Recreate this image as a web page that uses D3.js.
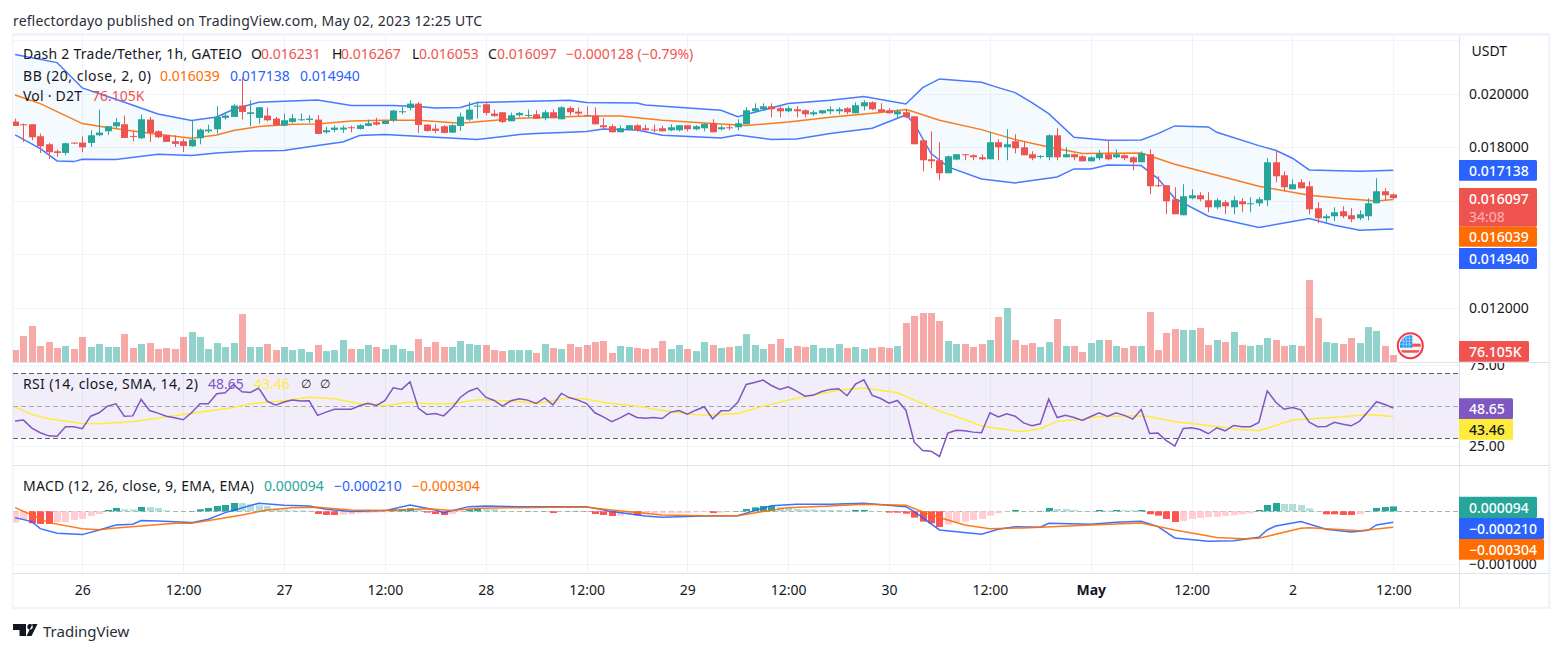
<!DOCTYPE html>
<html><head><meta charset="utf-8">
<script src="https://cdnjs.cloudflare.com/ajax/libs/d3/7.8.5/d3.min.js"></script>
<style>
html,body{margin:0;padding:0;background:#fff}
svg{display:block}
text{font-family:"Noto Sans",sans-serif;font-size:14px;fill:#131722}
</style></head><body><svg id="c" width="1562" height="652"></svg>
<script>
// Hours relative to 26 Apr 2023 00:00 UTC; one candle per hour. Prices in millionths of USDT.
const firstHour=-8;
const opens=[18954,18854,18854,18405,18106,17845,17782,18169,18169,18156,18443,18592,18779,18854,18418,18331,19028,18592,18443,18218,18218,18031,18331,18592,18667,19091,19128,19552,19240,19091,19178,19066,18804,18941,19016,19016,19028,18555,18642,18655,18742,18679,18791,18929,18866,19003,19302,19464,19626,18841,18692,18779,18542,18791,19028,19514,19602,19253,
19302,18966,19190,19165,19227,19078,19302,19040,19464,19327,19190,19177,18816,18779,18554,18654,18816,18704,18654,18704,18629,18629,18816,18667,18704,18891,18667,18741,18741,18853,19339,19414,19526,19452,19339,19414,19377,19227,19265,19339,19339,19452,19265,19526,19676,19414,19377,19227,19302,19153,18255,17545,17508,17022,17533,17732,17695,17620,17545,18181,17994,18218,
17994,17732,17632,17620,18442,17620,17732,17657,17470,17583,17732,17620,17695,17620,17433,17732,16573,16573,16050,15452,16087,16199,16013,15751,15938,15751,15975,15863,15900,16013,17433,16947,16424,16686,16536,15714,15340,15415,15601,15452,15340,15415,15900,16349,16231];
const highs=[19066,18879,18854,18505,18156,17907,18169,18169,18405,18630,19402,18779,19091,19178,18592,19215,19128,18630,18468,18443,18318,19003,18692,18841,19527,19315,19602,20623,19751,19502,19477,19128,19253,19228,19253,19190,19203,18754,18817,18804,18804,18854,19028,19091,19003,19390,19502,19751,19689,18854,18854,18817,18854,19290,19689,19701,19664,19402,
19302,19290,19314,19402,19377,19377,19414,19526,19526,19477,19526,19489,19078,18853,18816,18816,18853,18841,18841,18804,18853,18816,18816,18816,18891,19040,18816,18841,19040,19489,19638,19638,19638,19526,19526,19526,19414,19377,19377,19526,19489,19489,19676,19751,19713,19638,19452,19414,19414,19153,18293,18592,18181,17682,17732,17732,17732,17732,18554,18293,18667,18480,
18218,17844,17695,18480,18704,17994,17757,17695,17657,17889,18255,17919,17732,17657,17844,17919,16910,16573,16499,16611,16424,16312,16312,16087,16013,16162,16087,16125,16125,17583,17882,17097,16798,16798,16723,15938,15489,15751,15788,15714,15639,16087,16835,16461,16267];
const lows=[18791,18194,18256,17782,17558,17633,17695,18119,17807,18007,18405,18455,18692,18343,18218,18306,18194,18343,18194,18007,17820,18007,18106,18530,18505,19028,19128,19028,18779,18879,18966,18817,18779,18904,18978,18904,18480,18505,18555,18530,18555,18655,18779,18804,18854,18941,19228,19377,18530,18580,18518,18518,18530,18605,18978,19066,19190,19128,
18903,18966,19128,19103,19065,19003,19078,19040,19190,19165,19165,18853,18679,18554,18554,18629,18579,18617,18554,18579,18592,18592,18592,18629,18592,18554,18629,18629,18629,18853,19302,19377,19115,19115,19302,19115,19115,19165,19227,19227,19227,19227,19265,19377,19377,19302,19265,19078,19078,18106,17097,17209,16760,17022,17508,17508,17508,17508,17545,17508,17508,17770,
17695,17508,17570,17508,17508,17620,17508,17470,17470,17508,17508,17583,17508,17134,17433,16237,16511,15489,15489,15452,16050,15975,15564,15676,15489,15489,15564,15564,15788,15788,16685,16349,16424,16461,15489,15153,15153,15228,15340,15190,15265,15265,15900,16013,16053];
const closes=[18791,18841,18368,18031,17807,17782,18144,18131,17994,18443,18542,18779,18929,18343,18380,19041,18530,18368,18194,18119,18044,18281,18655,18655,19128,19178,19552,19315,19302,19489,19003,18817,19003,19078,19041,19066,18492,18630,18729,18729,18717,18817,18891,18841,18978,19365,19340,19626,18829,18605,18605,18530,18817,19140,19402,19552,19278,19165,
18941,19190,19277,19202,19065,19302,19078,19489,19302,19252,19165,18853,18741,18554,18704,18816,18629,18629,18629,18592,18741,18816,18667,18779,18866,18554,18741,18704,18891,19377,19452,19526,19414,19339,19452,19339,19227,19302,19377,19414,19414,19302,19564,19676,19414,19315,19265,19339,19115,18106,17508,17470,17022,17657,17732,17695,17620,17545,18181,17994,18106,17956,
17695,17583,17670,18442,17620,17732,17620,17470,17620,17770,17545,17732,17583,17433,17770,16536,16536,15975,15489,16162,16199,16050,15751,16013,15788,16013,15863,15900,16050,17433,16910,16499,16611,16461,15676,15340,15415,15564,15415,15303,15489,15900,16349,16199,16097];
// Volume in thousands, one per candle.
const volumes=[130,282,391,174,217,152,174,141,272,163,195,163,163,304,152,195,206,141,152,141,272,326,272,141,206,163,206,521,163,163,195,130,163,130,141,109,185,119,130,239,141,141,185,163,141,185,141,119,250,163,217,163,163,228,195,185,185,130,
119,130,130,130,98,195,152,141,195,163,185,217,228,98,174,163,152,141,152,228,141,185,141,119,217,185,152,163,174,304,185,141,195,250,152,174,163,185,152,152,195,152,163,141,152,163,152,174,424,500,532,532,445,228,195,195,163,195,239,489,586,239,
185,206,163,217,467,174,174,109,206,239,239,174,152,174,174,543,130,315,358,348,348,369,185,239,217,326,185,174,185,261,239,174,185,174,891,478,217,206,195,261,206,380,337,174,76.105];
const rsi=[40.6,41.2,36.3,33.4,31.5,31.3,37.1,37.1,35.9,43.6,45.7,49.8,51.2,43.6,43.8,53.9,47.1,45.5,43.6,42.6,41.4,45.7,51.2,51.2,57.4,58.0,63.1,58.6,58.2,60.9,52.9,50.4,52.3,53.5,52.9,53.1,44.1,46.1,47.9,47.9,47.9,50.0,51.6,50.2,53.1,61.1,60.1,64.8,48.4,44.7,45.3,43.8,48.8,55.3,59.0,60.9,55.3,53.3,
49.8,53.1,54.3,53.5,51.4,54.9,50.6,57.6,54.9,53.5,51.4,45.7,43.2,40.2,42.6,45.3,42.8,42.4,42.8,42.2,46.1,47.1,44.9,47.3,49.4,42.0,46.9,47.1,52.1,63.1,64.4,65.8,62.5,60.1,61.7,59.0,55.9,56.6,58.8,60.1,60.5,56.2,63.3,66.0,56.4,54.5,51.6,53.3,47.3,27.6,22.5,22.1,18.8,33.2,35.0,34.6,33.8,33.4,45.7,43.2,45.1,43.6,
39.5,37.7,38.9,54.1,42.8,44.1,42.8,41.0,43.4,45.7,43.4,45.7,44.1,41.8,47.7,33.0,33.2,28.5,25.2,36.0,36.5,35.4,32.8,36.5,34.6,37.9,37.1,37.1,39.8,59.2,52.3,47.9,49.0,47.5,39.9,37.1,37.3,39.8,38.7,37.7,40.6,46.5,52.5,50.8,48.65];
const macdHist=[-216,-165,-229,-242,-243,-210,-209,-165,-146,-89,-51,25,64,38,37,83,82,64,19,3,2,6,38,64,102,121,159,157,134,114,102,38,36,19,17,13,-51,-70,-71,-64,-57,-38,-37,-25,-19,38,39,57,25,-25,-51,-70,-51,-6,38,57,45,44,
13,6,4,6,3,5,-32,-6,4,4,-6,-51,-70,-89,-83,-57,-76,-57,-45,-38,-37,-36,-34,-20,-13,-32,-25,-6,6,45,76,102,103,83,70,45,38,37,25,24,23,13,25,26,6,4,-25,-26,-45,-121,-197,-229,-299,-254,-210,-197,-165,-146,-83,-38,-6,25,
6,4,6,64,45,44,25,6,5,25,13,25,19,18,25,-57,-83,-146,-204,-185,-146,-127,-108,-107,-89,-76,-57,-38,25,121,159,140,139,121,57,6,-57,-58,-70,-71,-57,6,64,83,94];
// Lines read at the visible knots of each curve: hour list + value list.
const bbUpperHours=[-8,-3,0,4,9,13,16,18,21,24,28,32,37,40,42,45,47,52,58,60,66,67,76,78,84,89,93,98,100,102,107,109,111,113,115,118,122,126,128,130,134,135,140,142,144,146,152,156];
const bbUpper=[21458,21159,20212,19788,19240,18991,19128,19415,19676,19714,19764,19552,19552,19514,19464,19477,19664,19701,19751,19663,19651,19576,19377,19140,19626,19751,19888,19614,20224,20548,20423,20224,20037,19663,19252,18368,18255,18268,18505,18791,18754,18554,18056,17882,17583,17146,17097,17138];
const bbBasisHours=[-8,-5,0,2,6,10,13,16,18,21,25,28,32,36,40,45,52,56,60,64,69,75,79,84,89,95,98,99,102,107,111,115,119,126,130,135,140,146,150,154,156];
const bbBasis=[19950,19626,18879,18779,18605,18443,18331,18455,18617,18767,18854,18866,18978,19003,19003,18891,19078,19115,19165,19165,19003,18878,18804,18941,19115,19290,19402,19315,19003,18654,18280,18006,17757,17782,17358,16947,16536,16200,16075,15988,16039];
const bbLowerHours=[-8,-5,-3,-1,0,4,9,13,16,20,24,28,31,33,36,42,47,52,54,58,60,62,66,69,76,78,82,85,89,94,98,99,101,103,107,111,116,118,120,122,126,128,130,134,140,146,149,152,156];
const bbLower=[18455,17944,17483,17458,17546,17533,17732,17683,17782,17857,17869,18056,18194,18430,18468,18368,18281,18468,18505,18554,18579,18679,18642,18442,18343,18455,18280,18305,18505,18704,19202,18878,17757,17259,16810,16660,16885,17184,17184,17333,17308,16822,16075,15415,14991,15327,15078,14891,14940];
const rsiMaHours=[-8,-6,-4,0,2,6,12,18,20,24,27,30,33,36,39,41,44,47,52,54,58,60,63,66,69,73,75,78,81,84,87,90,93,97,102,105,107,109,111,112,114,116,119,121,126,127,130,133,138,140,144,150,153,156];
const rsiMa=[49.2,44.7,42.0,39.1,38.9,40.2,44.7,49.0,51.2,53.1,55.3,54.3,51.2,50.0,52.3,51.2,51.2,53.7,52.7,51.4,54.9,54.1,51.4,49.8,47.1,44.5,44.3,45.3,49.8,53.5,56.6,59.6,60.9,58.0,46.9,41.6,37.5,36.0,34.6,34.2,36.0,40.4,41.8,43.4,43.8,43.2,40.2,38.5,35.4,34.6,41.2,43.2,44.7,43.46];
const macdHours=[-8,-6,-5,-3,0,2,4,6,7,9,13,15,17,21,24,27,29,32,36,39,42,43,46,48,52,60,63,67,69,74,78,80,82,85,89,93,98,99,102,107,109,111,114,115,120,123,126,128,130,134,137,140,141,142,145,148,151,153,154,156];
const macdLine=[-121,-197,-331,-420,-445,-356,-261,-248,-178,-184,-216,-153,-25,153,114,102,38,-6,13,121,25,-25,89,102,89,89,-6,-89,-114,-89,-83,13,108,134,134,153,89,-6,-356,-439,-343,-293,-305,-229,-248,-210,-191,-293,-509,-572,-560,-496,-356,-280,-197,-343,-394,-363,-261,-210];
const signalHours=[-8,-6,-4,0,2,4,7,11,13,16,19,22,25,28,32,36,41,44,47,52,56,60,63,69,74,78,81,84,89,93,98,101,105,108,112,120,126,130,135,138,140,145,146,152,156];
const signalLine=[70,-70,-216,-331,-350,-318,-280,-229,-229,-153,-70,25,70,76,25,13,51,13,57,70,76,76,25,-70,-83,-83,-6,70,102,134,114,-70,-261,-331,-318,-261,-223,-356,-502,-522,-515,-324,-312,-369,-304];
// Axis labels
const priceTicks=[12000,14000,16000,18000,20000,22000];
const priceTickLabels=[12000,18000,20000];
const rsiTicks=[25,75];
const rsiLevels=[70,50,30];
const macdTicks=[-1000];
const timeTicks=[0,12,24,36,48,60,72,84,96,108,120,132,144,156];
const timeLabels=["26","12:00","27","12:00","28","12:00","29","12:00","30","12:00","May","12:00","2","12:00"];

const GREEN="#26a69a",RED="#ef5350",BLUE="#2962ff",ORANGE="#ff6d00",PURPLE="#7e57c2",YELLOW="#ffeb3b",GRID="#f0f3fa",SEP="#e0e3eb";
const L=13,R=1459,FR=1549;
const hours=d3.range(firstHour,firstHour+opens.length);
const x=d3.scaleLinear().domain([0,156]).range([82.3,1393.3]);
const yP=d3.scaleLinear().domain([12000,20000]).range([307.6,93.6]);
const yV=d3.scaleLinear().domain([0,891]).range([362,280]);
const yR=d3.scaleLinear().domain([30,70]).range([438.3,373.3]);
const yM=d3.scaleLinear().domain([-1000,0]).range([563.7,511.3]);
const svg=d3.select("#c");
const defs=svg.append("defs");
[["main",36,362],["rsi",362,465],["macd",465,573]].forEach(([id,a,b])=>defs.append("clipPath").attr("id","cl-"+id).append("rect").attr("x",L).attr("y",a).attr("width",R-L).attr("height",b-a));
defs.append("clipPath").attr("id","cl-rax").append("rect").attr("x",R).attr("y",363).attr("width",FR-R).attr("height",102);

// frame bands
svg.append("rect").attr("x",12).attr("y",33).attr("width",FR-12+1).attr("height",3).attr("fill",GRID);
svg.append("rect").attr("x",12).attr("y",33).attr("width",1.5).attr("height",576).attr("fill",GRID);
svg.append("rect").attr("x",FR-1).attr("y",33).attr("width",2.5).attr("height",576).attr("fill",GRID);
svg.append("rect").attr("x",12).attr("y",607).attr("width",FR-12+1).attr("height",2).attr("fill",GRID);

// vertical grid
svg.append("g").selectAll("line").data(timeTicks).join("line")
 .attr("x1",d=>Math.round(x(d))+.5).attr("x2",d=>Math.round(x(d))+.5).attr("y1",36).attr("y2",573).attr("stroke",GRID).attr("stroke-width",1);
// horizontal grid
const hg=svg.append("g");
hg.selectAll(".p").data(priceTicks).join("line").attr("class","p").attr("x1",L).attr("x2",R).attr("y1",d=>Math.round(yP(d))+.5).attr("y2",d=>Math.round(yP(d))+.5).attr("stroke",GRID);
hg.selectAll(".r").data(rsiTicks).join("line").attr("class","r").attr("x1",L).attr("x2",R).attr("y1",d=>Math.round(yR(d))+.5).attr("y2",d=>Math.round(yR(d))+.5).attr("stroke",GRID);
hg.selectAll(".m").data(macdTicks).join("line").attr("class","m").attr("x1",L).attr("x2",R).attr("y1",d=>Math.round(yM(d))+.5).attr("y2",d=>Math.round(yM(d))+.5).attr("stroke",GRID);

const main=svg.append("g").attr("clip-path","url(#cl-main)");
// BB fill + lines
const pts=(hs,vs)=>hs.map((h,i)=>[h,vs[i]]);
const upperPts=pts(bbUpperHours,bbUpper),lowerPts=pts(bbLowerHours,bbLower),basisPts=pts(bbBasisHours,bbBasis);
const lnP=d3.line().x(d=>x(d[0])).y(d=>yP(d[1]));
main.append("path").attr("d",lnP([...upperPts,...lowerPts.slice().reverse()])+"Z").attr("fill","#2196f3").attr("fill-opacity",.05);
// volumes
main.selectAll(".v").data(hours).join("rect").attr("class","v")
 .attr("x",h=>Math.round(x(h))-3).attr("width",7).attr("y",(h,i)=>yV(volumes[i])).attr("height",(h,i)=>362-yV(volumes[i]))
 .attr("fill",(h,i)=>closes[i]>=opens[i]?GREEN:RED).attr("fill-opacity",.5);
const LW=1.5;
main.append("path").attr("d",lnP(upperPts)).attr("fill","none").attr("stroke",BLUE).attr("stroke-width",LW).attr("stroke-opacity",.85);
main.append("path").attr("d",lnP(lowerPts)).attr("fill","none").attr("stroke",BLUE).attr("stroke-width",LW).attr("stroke-opacity",.85);
main.append("path").attr("d",lnP(basisPts)).attr("fill","none").attr("stroke",ORANGE).attr("stroke-width",LW).attr("stroke-opacity",.9);
// candles
const cg=main.selectAll(".c").data(hours).join("g").attr("class","c").attr("fill",(h,i)=>closes[i]>=opens[i]?GREEN:RED);
cg.append("rect").attr("x",h=>Math.round(x(h))).attr("width",1).attr("y",(h,i)=>yP(highs[i])).attr("height",(h,i)=>yP(lows[i])-yP(highs[i]));
cg.append("rect").attr("x",h=>Math.round(x(h))-3).attr("width",7).attr("y",(h,i)=>yP(Math.max(opens[i],closes[i]))).attr("height",(h,i)=>Math.max(1,Math.abs(yP(opens[i])-yP(closes[i]))));

// flag badge
const flag=svg.append("g").attr("transform","translate(1410.3,345.7)");
defs.append("clipPath").attr("id","fl").append("circle").attr("r",10.5);
flag.append("circle").attr("r",12.5).attr("fill","#fff").attr("stroke","#f23645").attr("stroke-width",2);
const fi=flag.append("g").attr("clip-path","url(#fl)");
fi.append("rect").attr("x",-11).attr("y",-11).attr("width",22).attr("height",22).attr("fill","#f5f5f5");
fi.append("rect").attr("x",-11).attr("y",-2).attr("width",22).attr("height",3).attr("fill","#ef5350");
fi.append("rect").attr("x",-11).attr("y",4.5).attr("width",22).attr("height",2.5).attr("fill","#ef5350");
fi.append("rect").attr("x",-11).attr("y",-11).attr("width",13).attr("height",13).attr("fill","#2196f3");
fi.append("path").attr("d","M-11-7.5h13M-11-4.5h13M-11-1.5h13M-7-11v13M-4-11v13M-1-11v13").attr("stroke","#bbdefb").attr("stroke-width",.7).attr("fill","none");

// RSI pane
const rp=svg.append("g").attr("clip-path","url(#cl-rsi)");
rp.append("rect").attr("x",L).attr("width",R-L).attr("y",yR(70)).attr("height",yR(30)-yR(70)).attr("fill",PURPLE).attr("fill-opacity",.1);
rp.selectAll(".lv").data(rsiLevels).join("line").attr("class","lv").attr("x1",L).attr("x2",R).attr("y1",d=>Math.round(yR(d))+.5).attr("y2",d=>Math.round(yR(d))+.5)
 .attr("stroke",d=>d===50?"#787b86":"#5d606b").attr("stroke-opacity",d=>d===50?.6:1).attr("stroke-dasharray","5 3");
rp.append("path").attr("d",d3.line().x(d=>x(d[0])).y(d=>yR(d[1]))(pts(rsiMaHours,rsiMa))).attr("fill","none").attr("stroke",YELLOW).attr("stroke-width",LW);
rp.append("path").attr("d",d3.line().x(h=>x(h)).y((h,i)=>yR(rsi[i]))(hours)).attr("fill","none").attr("stroke",PURPLE).attr("stroke-width",LW);

// MACD pane
const mp=svg.append("g").attr("clip-path","url(#cl-macd)");
mp.append("line").attr("x1",L).attr("x2",R).attr("y1",Math.round(yM(0))+.5).attr("y2",Math.round(yM(0))+.5).attr("stroke","#787b86").attr("stroke-opacity",.6).attr("stroke-dasharray","5 3");
mp.selectAll(".h").data(hours).join("rect").attr("class","h")
 .attr("x",h=>Math.round(x(h))-3).attr("width",7)
 .attr("y",(h,i)=>Math.min(yM(0),yM(macdHist[i]))).attr("height",(h,i)=>Math.abs(yM(macdHist[i])-yM(0)))
 .attr("fill",(h,i)=>{const v=macdHist[i],p=i?macdHist[i-1]:v;return v>=0?(v>=p?GREEN:"#b2dfdb"):(v<p?"#ff5252":"#ffcdd2");});
const lnM=d3.line().x(d=>x(d[0])).y(d=>yM(d[1]));
mp.append("path").attr("d",lnM(pts(macdHours,macdLine))).attr("fill","none").attr("stroke",BLUE).attr("stroke-width",LW).attr("stroke-opacity",.9);
mp.append("path").attr("d",lnM(pts(signalHours,signalLine))).attr("fill","none").attr("stroke",ORANGE).attr("stroke-width",LW).attr("stroke-opacity",.9);

// separators
[362.5,465.5,573.5].forEach(y=>svg.append("line").attr("x1",L).attr("x2",FR).attr("y1",y).attr("y2",y).attr("stroke",SEP));
svg.append("line").attr("x1",R+.5).attr("x2",R+.5).attr("y1",36).attr("y2",607).attr("stroke",SEP);

// axes
function styl(g){g.select(".domain").remove();g.selectAll("line").remove();g.selectAll("text").style("font-size","14px").attr("fill","#131722");}
svg.append("g").attr("transform",`translate(${R+1},0)`).call(d3.axisRight(yP).tickValues(priceTickLabels).tickSize(0).tickPadding(9).tickFormat(d=>(d/1e6).toFixed(6))).call(styl);
svg.append("g").attr("clip-path","url(#cl-rax)").append("g").attr("transform",`translate(${R+1},0)`).call(d3.axisRight(yR).tickValues(rsiTicks).tickSize(0).tickPadding(9).tickFormat(d=>d.toFixed(2))).call(styl);
svg.append("g").attr("transform",`translate(${R+1},0)`).call(d3.axisRight(yM).tickValues(macdTicks).tickSize(0).tickPadding(9).tickFormat(d=>"\u2212"+(Math.abs(d)/1e6).toFixed(6))).call(styl);
const tAxis=svg.append("g").attr("transform","translate(0,574)").call(d3.axisBottom(x).tickValues(timeTicks).tickSize(0).tickPadding(11).tickFormat((d,i)=>timeLabels[i])).call(styl);
tAxis.selectAll("text").filter(d=>d===120).style("font-weight","700");

const T=(s,px,py,fill,o={})=>{const t=svg.append("text").attr("x",px).attr("y",py).attr("dominant-baseline","central").text(s);t.style("fill",fill||"#131722");if(o.size)t.style("font-size",o.size+"px");if(o.len)t.attr("textLength",o.len).attr("lengthAdjust","spacing");return t;};
T("USDT",1471.5,50.7,"#131722");

// value tags
function tag(y0,y1,r,bg,s,fg="#fff",ty){svg.append("path").attr("d",`M${R} ${y0}H${r-1.5}q1.5 0 1.5 1.5V${y1-1.5}q0 1.5 -1.5 1.5H${R}Z`).attr("fill",bg);T(s,1469,ty||(y0+y1)/2,fg).style("font-weight","500");}
tag(160,180.7,1537,BLUE,"0.017138");
tag(188,226.7,1537,RED,"0.016097","#fff",198.5);
T("34:08",1469,216.5,"#ffb3b0");
tag(226.7,246.7,1537,ORANGE,"0.016039");
tag(248,269,1537,BLUE,"0.014940");
tag(341,361.7,1529,RED,"76.105K");
tag(398.3,419,1513,PURPLE,"48.65");
tag(419,439.7,1513,YELLOW,"43.46","#131722");
tag(496.7,518,1537,GREEN,"0.000094");
tag(518,539,1544,BLUE,"\u22120.000210");
tag(539,559.7,1544,ORANGE,"\u22120.000304");

// legend
const dark="#131722";
T("Dash 2 Trade/Tether, 1h, GATEIO",23,53,dark,{len:219});
T("O",251,53,dark);T("0.016231",261,53,RED);
T("H",332,53,dark);T("0.016267",341,53,RED);
T("L",412,53,dark);T("0.016053",419,53,RED);
T("C",488,53,dark);T("0.016097",497,53,RED);
T("\u22120.000128 (\u22120.79%)",566,53,RED);
T("BB (20, close, 2, 0)",23,75,dark,{len:128});
T("0.016039",160,75,ORANGE);T("0.017138",230,75,BLUE);T("0.014940",300,75,BLUE);
T("Vol \u00b7 D2T",23,95,dark,{len:59});T("76.105K",92,95,RED);
T("RSI (14, close, SMA, 14, 2)",23,383,dark,{len:175});
T("48.65",208,383,PURPLE);T("43.46",254,383,YELLOW);T("\u2205",301,383,dark,{size:12});T("\u2205",320,383,dark,{size:12});
T("MACD (12, 26, close, 9, EMA, EMA)",23,485,dark,{len:231});
T("0.000094",264,485,GREEN);T("\u22120.000210",334,485,BLUE);T("\u22120.000304",412,485,ORANGE);

// header and footer
T("reflectordayo published on TradingView.com, May 02, 2023 12:25 UTC",13,20,"#2a2e39",{len:469});
svg.append("path").attr("d","M13 624h13v12h-6.5v-6H13zM30 624a2.8 2.8 0 1 0 .01 0zM32.5 624H37.5L31.5 636H26.5z").attr("fill","#131722");
T("TradingView",43,631,"#2a2e39",{size:15});
</script></body></html>
